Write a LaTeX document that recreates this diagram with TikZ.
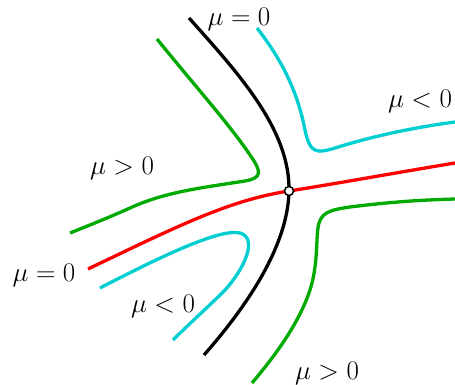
\documentclass[tikz,border=0pt]{standalone}
\usepackage{fix-cm}
\usepackage{tikz}
\definecolor{cgreen}{RGB}{0,170,0}
\definecolor{ccyan}{RGB}{0,206,209}
\begin{document}
\begin{tikzpicture}[x=1pt,y=-1pt,
  curve/.style={line width=3.3pt, line cap=butt},
  lbl/.style={font=\fontsize{27}{32}\selectfont, inner sep=0pt}]
\useasboundingbox (0,0) rectangle (455,385);
% black separatrix
\coordinate (bt) at (189,18);
\coordinate (bb) at (204,355);
\draw[curve, black] (bt) .. controls (240,75) and (290,130) .. (289,191)
  .. controls (288,245) and (248,305) .. (bb);
% red separatrix
\coordinate (rl) at (88,269);
\coordinate (rr) at (455,163);
\draw[curve, red] (rl) .. controls (180,225) and (230,200) .. (289,191)
  .. controls (340,183) and (400,172) .. (rr);
% cyan upper right
\draw[curve, ccyan] (257,28) .. controls (290,70) and (300,105) .. (305,130)
  .. controls (310,155) and (318,153) .. (335,148)
  .. controls (370,137) and (410,128) .. (455,122);
% cyan lower left
\draw[curve, ccyan] (100,288) .. controls (160,257) and (220,228) .. (240,233)
  .. controls (258,238) and (245,268) .. (225,290)
  .. controls (205,310) and (190,323) .. (173,340);
% green upper left
\draw[curve, cgreen] (157,39) .. controls (190,80) and (230,125) .. (250,155)
  .. controls (262,172) and (262,178) .. (245,181)
  .. controls (200,188) and (165,192) .. (130,208)
  .. controls (110,217) and (90,225) .. (70,233);
% green lower right
\draw[curve, cgreen] (252,383) .. controls (280,350) and (300,320) .. (310,290)
  .. controls (318,265) and (316,240) .. (318,228)
  .. controls (320,212) and (330,210) .. (350,207)
  .. controls (390,202) and (420,200) .. (455,199);
% saddle point
\node[circle, draw=black, fill=white, line width=1.5pt, minimum size=9pt, inner sep=0pt] (p) at (289,191) {};
% labels
\node[lbl] (l1) at (239,19) {$\mu=0$};
\node[lbl] (l2) at (420,101) {$\mu<0$};
\node[lbl] (l3) at (122,168) {$\mu>0$};
\node[lbl] (l4) at (44,275) {$\mu=0$};
\node[lbl] (l5) at (163,306) {$\mu<0$};
\node[lbl] (l6) at (327,373) {$\mu>0$};
\end{tikzpicture}
\end{document}
